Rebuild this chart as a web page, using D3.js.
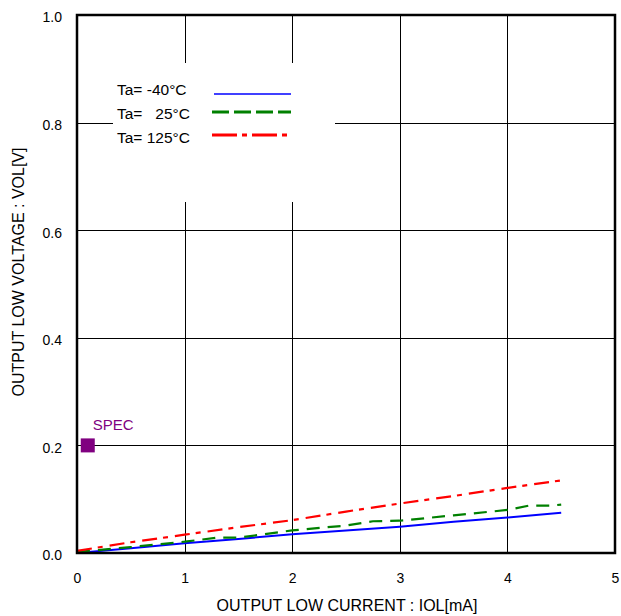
<!DOCTYPE html>
<html><head><meta charset="utf-8">
<script src="https://cdn.jsdelivr.net/npm/d3@7"></script>
<style>body{margin:0;background:#fff}svg{display:block}text{font-family:"Liberation Sans",Arial,sans-serif}</style>
</head><body><div id="c"></div>
<script>
const xTicks=[0,1,2,3,4,5];
const yTicks=[0,0.2,0.4,0.6,0.8,1.0];
const blueX=[0,0.5,1,1.5,2,2.5,3,3.5,4,4.5];
const blueY=[0,0.009,0.018,0.026,0.035,0.042,0.049,0.058,0.066,0.075];
const greenX=[0,0.5,1,1.3,1.5,2,2.5,2.75,3,3.5,4,4.2,4.4,4.5];
const greenY=[0.002,0.011,0.021,0.0285,0.0285,0.042,0.051,0.059,0.060,0.070,0.080,0.088,0.088,0.090];
const redX=[0,0.5,1,1.5,2,2.5,3,3.5,4,4.5];
const redY=[0.004,0.020,0.034,0.048,0.061,0.077,0.092,0.106,0.121,0.135];
const specX=[0.1], specY=[0.2];
const legendLabels=["Ta= -40°C","Ta=   25°C","Ta= 125°C"];
const seriesColors=["#0000ff","#008000","#ff0000"];

const W=621,H=616,m={l:77,t:15,r:6,b:63};
const svg=d3.select("#c").append("svg").attr("width",W).attr("height",H);
const x=d3.scaleLinear().domain([0,5]).range([m.l,W-m.r]);
const y=d3.scaleLinear().domain([0,1]).range([H-m.b,m.t]);

// grid
svg.append("g").selectAll("line").data(xTicks.slice(1,-1)).join("line")
 .attr("x1",d=>Math.round(x(d))+0.5).attr("x2",d=>Math.round(x(d))+0.5).attr("y1",y(1)).attr("y2",y(0))
 .attr("stroke","#000").attr("stroke-width",1);
svg.append("g").selectAll("line").data(yTicks.slice(1,-1)).join("line")
 .attr("y1",d=>Math.round(y(d))+0.5).attr("y2",d=>Math.round(y(d))+0.5).attr("x1",x(0)).attr("x2",x(5))
 .attr("stroke","#000").attr("stroke-width",1);

// legend background box
svg.append("rect").attr("x",113).attr("y",63).attr("width",222).attr("height",139).attr("fill","#fff");

// axes tick labels
const xa=d3.axisBottom(x).tickValues(xTicks).tickFormat(d3.format("d")).tickSize(0).tickPadding(20);
svg.append("g").attr("transform",`translate(0,${y(0)})`).call(xa)
 .call(g=>{g.select(".domain").remove();g.selectAll("text").attr("font-size",14).attr("fill","#000").attr("font-family","Liberation Sans, Arial, sans-serif");});
const ya=d3.axisLeft(y).tickValues(yTicks).tickFormat(d3.format(".1f")).tickSize(0).tickPadding(15);
svg.append("g").attr("transform",`translate(${x(0)},2.5)`).call(ya)
 .call(g=>{g.select(".domain").remove();g.selectAll("text").attr("font-size",14).attr("fill","#000").attr("font-family","Liberation Sans, Arial, sans-serif");});

// series
const line=d3.line().x(d=>x(d[0])).y(d=>y(d[1]));
const zip=(a,b)=>a.map((v,i)=>[v,b[i]]);
svg.append("path").datum(zip(blueX,blueY)).attr("d",line).attr("fill","none").attr("stroke",seriesColors[0]).attr("stroke-width",2);
svg.append("path").datum(zip(greenX,greenY)).attr("d",line).attr("fill","none").attr("stroke",seriesColors[1]).attr("stroke-width",2.2).attr("stroke-dasharray","13,8");
svg.append("path").datum(zip(redX,redY)).attr("d",line).attr("fill","none").attr("stroke",seriesColors[2]).attr("stroke-width",2.2).attr("stroke-dasharray","15,6,5,7");

// border
svg.append("rect").attr("x",x(0)).attr("y",y(1)).attr("width",x(5)-x(0)).attr("height",y(0)-y(1))
 .attr("fill","none").attr("stroke","#000").attr("stroke-width",2.5);

// spec marker
svg.append("g").selectAll("rect").data(zip(specX,specY)).join("rect")
 .attr("x",d=>x(d[0])-7).attr("y",d=>y(d[1])-7).attr("width",14).attr("height",14).attr("fill","#800080");
svg.append("text").attr("x",x(specX[0])+5).attr("y",y(specY[0])-15).attr("font-size",15).attr("fill","#800080").text("SPEC");

// legend
const lg=svg.append("g");
const rowsY=[94,112,135];
const textY=[95,119,143];
legendLabels.forEach((t,i)=>{
  lg.append("text").attr("x",117).attr("y",textY[i]).attr("font-size",15.5).attr("fill","#000")
   .style("white-space","pre").attr("xml:space","preserve").text(t);
});
lg.append("line").attr("x1",214).attr("x2",291).attr("y1",rowsY[0]).attr("y2",rowsY[0]).attr("stroke",seriesColors[0]).attr("stroke-width",1.6);
lg.append("line").attr("x1",212).attr("x2",291).attr("y1",rowsY[1]).attr("y2",rowsY[1]).attr("stroke",seriesColors[1]).attr("stroke-width",3.2).attr("stroke-dasharray","17,5");
lg.append("line").attr("x1",212).attr("x2",289).attr("y1",rowsY[2]).attr("y2",rowsY[2]).attr("stroke",seriesColors[2]).attr("stroke-width",3.2).attr("stroke-dasharray","25,5,5,5");

// axis titles
svg.append("text").attr("x",(x(0)+x(5))/2+1).attr("y",611).attr("text-anchor","middle").attr("font-size",16).attr("fill","#000")
 .text("OUTPUT LOW CURRENT : IOL[mA]");
svg.append("text").attr("transform","translate(24,272) rotate(-90)").attr("text-anchor","middle").attr("font-size",16).attr("fill","#000")
 .text("OUTPUT LOW VOLTAGE : VOL[V]");
</script></body></html>
